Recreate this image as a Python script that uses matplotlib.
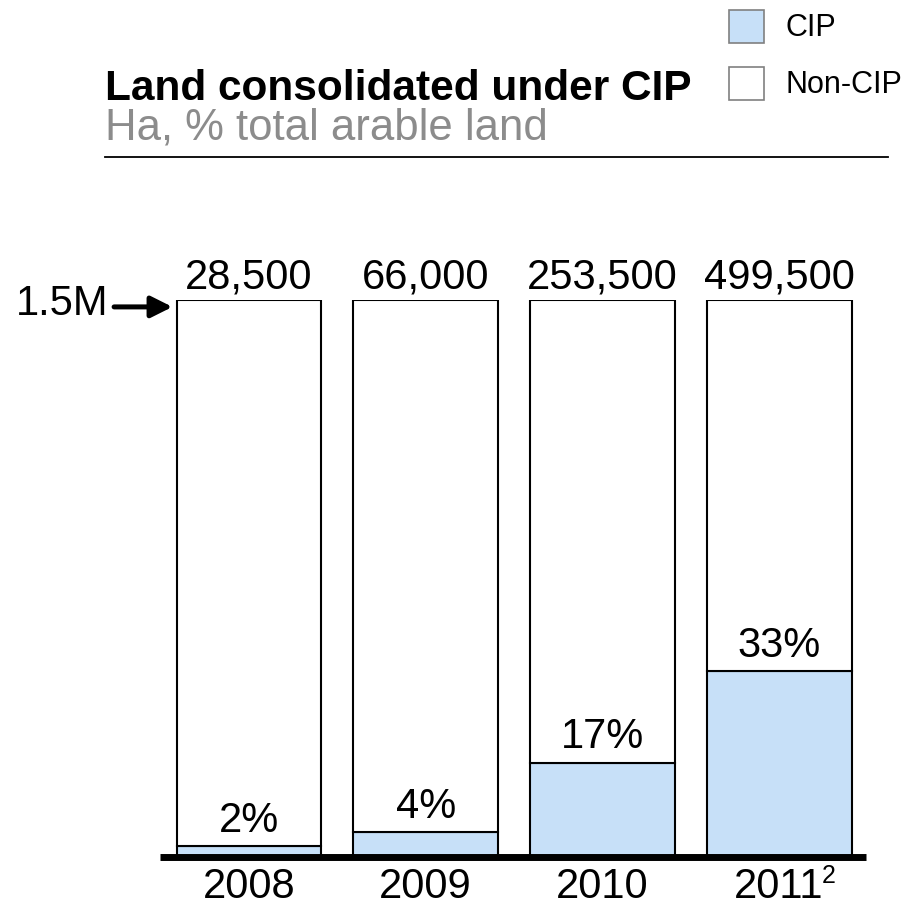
import matplotlib
matplotlib.use("Agg")
import matplotlib.pyplot as plt
from matplotlib.patches import Rectangle
from matplotlib.lines import Line2D
from matplotlib.transforms import offset_copy

plt.rcParams['font.family'] = ['Liberation Sans', 'DejaVu Sans']

# data
years = ['2008', '2009', '2010', '2011']
cip_ha = [28500, 66000, 253500, 499500]
total_ha = 1500000
cip_labels = ['28,500', '66,000', '253,500', '499,500']
pct_labels = ['2%', '4%', '17%', '33%']

CIP_COLOR = '#C7E0F8'
BAR_W = 0.82

fig = plt.figure(figsize=(9.09, 9.19), dpi=100)
ax = fig.add_axes([0.176, 0.0675, 0.7767, 0.6061])

x = list(range(len(years)))
non_cip = [total_ha - v for v in cip_ha]
ax.bar(x, cip_ha, width=BAR_W, color=CIP_COLOR, edgecolor='black', linewidth=1.5, zorder=2)
ax.bar(x, non_cip, bottom=cip_ha, width=BAR_W, color='white', edgecolor='black',
       linewidth=1.5, zorder=2)

ax.set_xlim(-0.504, 3.492)
ax.set_ylim(0, total_ha)
ax.axis('off')

# thick baseline across the whole plot width
ax.plot([0, 1], [0, 0], transform=ax.transAxes, color='black',
        lw=5, solid_capstyle='butt', clip_on=False, zorder=3)

for i in x:
    # hectare label on top of each bar
    ax.annotate(cip_labels[i], xy=(i, total_ha), xytext=(0, 2), textcoords='offset points',
                ha='center', va='bottom', fontsize=30, annotation_clip=False)
    # share label above the CIP part
    ax.annotate(pct_labels[i], xy=(i, cip_ha[i]), xytext=(0, 4), textcoords='offset points',
                ha='center', va='bottom', fontsize=30, annotation_clip=False)
    # year label
    ax.annotate(years[i], xy=(i, 0), xytext=(0, -7), textcoords='offset points',
                ha='center', va='top', fontsize=30, annotation_clip=False)

# footnote marker on last year
ax.annotate('2', xy=(x[-1], 0), xytext=(31, -5), textcoords='offset points',
            ha='left', va='top', fontsize=18, annotation_clip=False)

# 1.5M arrow pointing at the top of the first bar
left_edge = x[0] - BAR_W / 2
arrow_tr = offset_copy(ax.transData, fig=fig, x=-3, y=-5, units='points')
ax.annotate('', xy=(left_edge, total_ha), xycoords=arrow_tr, xytext=(-42, 0),
            textcoords='offset points', annotation_clip=False,
            arrowprops=dict(arrowstyle='-|>', color='black', lw=3.6,
                            mutation_scale=32, shrinkA=0, shrinkB=0))
ax.annotate('1.5M', xy=(left_edge, total_ha), xycoords=arrow_tr, xytext=(-46, 2),
            textcoords='offset points', ha='right', va='center', fontsize=30,
            annotation_clip=False)

# title block
fig.text(0.1155, 0.891, 'Land consolidated under CIP', fontsize=30.5, fontweight='bold',
         ha='left', va='baseline')
fig.text(0.1155, 0.848, 'Ha, % total arable land', fontsize=31.5, color='#8C8C8C',
         ha='left', va='baseline')
fig.add_artist(Line2D([0.1155, 0.977], [0.829, 0.829], color='black', lw=1.3))

# legend boxes
sq_w, sq_h = 35 / 909, 33 / 919
fig.add_artist(Rectangle((0.802, 0.953), sq_w, sq_h, facecolor=CIP_COLOR,
                         edgecolor='#808080', lw=1.2))
fig.add_artist(Rectangle((0.802, 0.891), sq_w, sq_h, facecolor='white',
                         edgecolor='#808080', lw=1.2))
fig.text(0.864, 0.970, 'CIP', fontsize=22, ha='left', va='center')
fig.text(0.864, 0.908, 'Non-CIP', fontsize=22, ha='left', va='center')

fig.savefig('out.png', dpi=100)
